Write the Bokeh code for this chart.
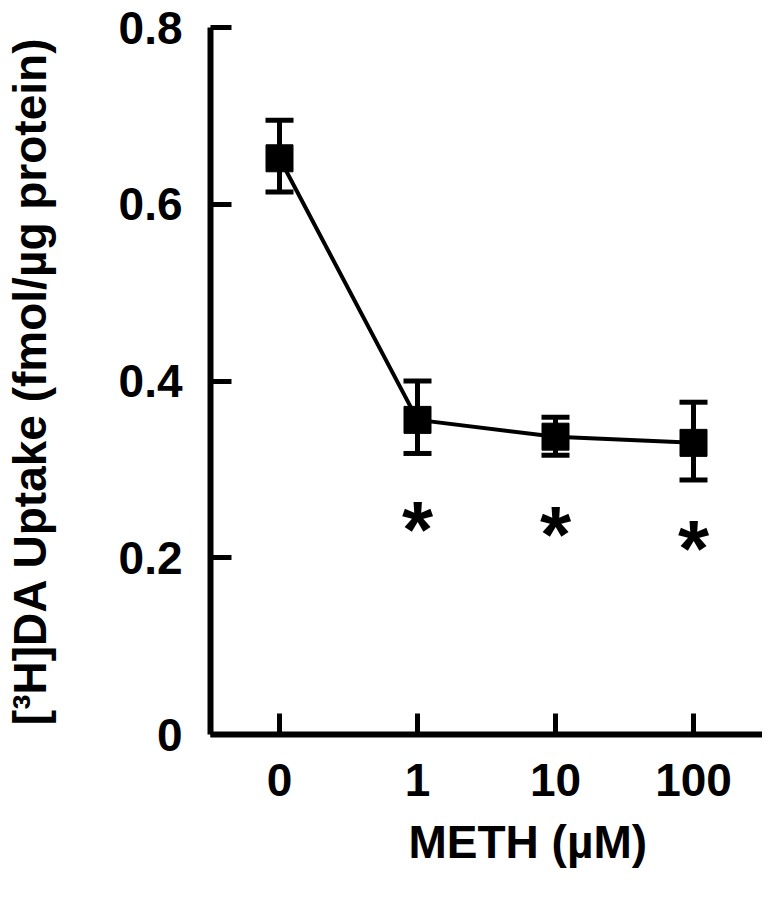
from bokeh.plotting import figure
from bokeh.models import (ColumnDataSource, Whisker, TeeHead, FixedTicker,
                          CustomJSTickFormatter, Range1d, FactorRange, Title)
from bokeh.core.properties import value
from bokeh.embed import file_html
from bokeh.resources import INLINE

# ---- data ----
doses = ["0", "1", "10", "100"]
uptake_mean = [0.652, 0.356, 0.337, 0.330]
uptake_upper = [0.695, 0.400, 0.359, 0.376]
uptake_lower = [0.614, 0.318, 0.316, 0.288]
sig_doses = ["1", "10", "100"]
sig_y = [0.243, 0.238, 0.222]
y_ticks = [0, 0.2, 0.4, 0.6, 0.8]

FONT = "Liberation Sans"

src = ColumnDataSource(dict(dose=doses, mean=uptake_mean,
                            upper=uptake_upper, lower=uptake_lower))
sig_src = ColumnDataSource(dict(dose=sig_doses, y=sig_y, t=["*"] * len(sig_doses)))

p = figure(width=762, height=883, x_range=FactorRange(*doses),
           y_range=Range1d(0, 0.8), output_backend="svg",
           toolbar_location=None, min_border_left=209, min_border_right=0,
           min_border_top=27, min_border_bottom=145)
p.outline_line_color = None
p.xgrid.visible = False
p.ygrid.visible = False
p.x_range.range_padding = 0

# connecting line
p.line("dose", "mean", source=src, line_color="black", line_width=4)

# error bars
head = dict(size=28, line_width=5, line_color="black")
p.add_layout(Whisker(source=src, base="dose", upper="upper", lower="lower",
                     line_width=5, line_color="black",
                     upper_head=TeeHead(**head), lower_head=TeeHead(**head)))

# markers
p.scatter("dose", "mean", source=src, marker="square", size=27,
          fill_color="black", line_color="black")

# significance asterisks
p.text("dose", "y", text="t", source=sig_src, text_font=value(FONT),
       text_font_style="bold", text_font_size="80px", text_align="center",
       text_baseline="middle", text_color="black", y_offset=10)

# axes
for ax in (p.xaxis[0], p.yaxis[0]):
    ax.axis_line_width = 6
    ax.axis_line_color = "black"
    ax.major_tick_line_width = 5
    ax.major_tick_line_color = "black"
    ax.major_tick_in = 21
    ax.major_tick_out = 0
    ax.minor_tick_line_color = None
    ax.major_label_text_font = FONT
    ax.major_label_text_font_style = "bold"
    ax.major_label_text_font_size = "46px"
    ax.major_label_text_color = "black"
    ax.axis_label_text_font = FONT
    ax.axis_label_text_font_style = "bold"
    ax.axis_label_text_font_size = "46px"
    ax.axis_label_text_color = "black"

p.yaxis.ticker = FixedTicker(ticks=y_ticks)
p.yaxis.formatter = CustomJSTickFormatter(
    code="return tick == 0 ? '0' : tick.toFixed(1);")
p.yaxis.major_label_standoff = 28
p.yaxis.axis_label = "[³H]DA Uptake (fmol/µg protein)"
p.yaxis.axis_label_standoff = 60

p.xaxis.major_label_standoff = 29

# x-axis title, placed as in the reference (left of the axis centre)
p.add_layout(Title(text="METH (µM)", align="left", offset=198,
                   text_font=FONT, text_font_style="bold",
                   text_font_size="46px", text_color="black",
                   standoff=31), "below")

open("out.html", "w").write(file_html(p, INLINE))
